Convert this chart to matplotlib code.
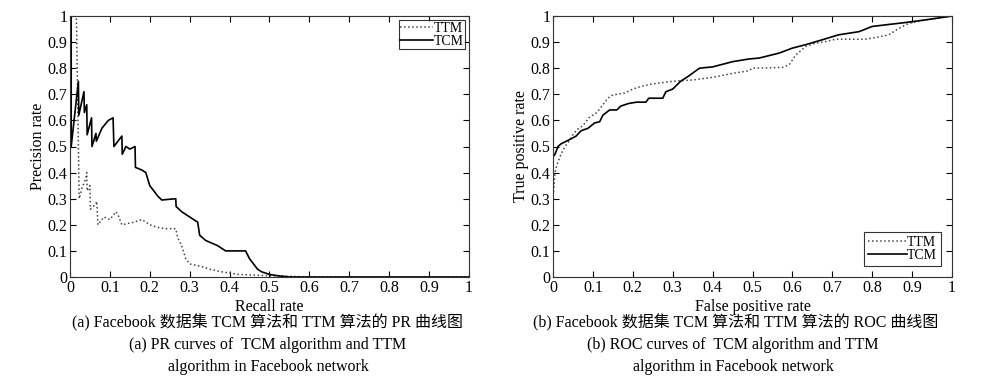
import numpy as np
import matplotlib.pyplot as plt

plt.rcParams['font.family'] = ['Liberation Serif', 'Noto Sans CJK SC']
plt.rcParams['font.size'] = 11

# PR 曲线数据 (recall, precision)
pr_tcm_x = [0.0, 0.003, 0.003, 0.021, 0.022, 0.035, 0.036, 0.042, 0.043, 0.054, 0.055, 0.065, 0.066,
            0.08, 0.096, 0.108, 0.11, 0.13, 0.131, 0.14, 0.15, 0.163, 0.164, 0.18, 0.19, 0.2,
            0.22, 0.23, 0.265, 0.266, 0.28, 0.3, 0.32, 0.325, 0.34, 0.37, 0.39, 0.44, 0.45,
            0.46, 0.47, 0.48, 0.5, 0.52, 0.55, 0.7, 1.0]
pr_tcm_y = [0.5, 1.0, 0.5, 0.75, 0.62, 0.71, 0.63, 0.66, 0.545, 0.61, 0.5, 0.55, 0.52,
            0.57, 0.6, 0.61, 0.5, 0.54, 0.47, 0.5, 0.49, 0.5, 0.42, 0.41, 0.4, 0.35,
            0.31, 0.295, 0.3, 0.27, 0.25, 0.23, 0.21, 0.16, 0.14, 0.12, 0.1, 0.1, 0.07,
            0.05, 0.03, 0.02, 0.01, 0.005, 0.0, 0.0, 0.0]
pr_ttm_x = [0.012, 0.016, 0.023, 0.03, 0.04, 0.042, 0.043, 0.05, 0.051, 0.065, 0.067, 0.07,
            0.085, 0.1, 0.115, 0.12, 0.13, 0.16, 0.18, 0.2, 0.22, 0.24, 0.265, 0.27, 0.28,
            0.29, 0.3, 0.33, 0.35, 0.38, 0.42, 0.5, 0.6, 1.0]
pr_ttm_y = [1.0, 1.0, 0.3, 0.34, 0.38, 0.4, 0.33, 0.35, 0.26, 0.28, 0.29, 0.2,
            0.23, 0.22, 0.25, 0.24, 0.2, 0.21, 0.22, 0.2, 0.19, 0.185, 0.185, 0.15, 0.12,
            0.07, 0.05, 0.04, 0.03, 0.02, 0.01, 0.005, 0.0, 0.0]

# ROC 曲线数据 (FPR, TPR)
roc_tcm_x = [0.0, 0.0, 0.005, 0.0125, 0.02, 0.033, 0.046, 0.058, 0.07, 0.088, 0.104, 0.117,
             0.125, 0.142, 0.16, 0.17, 0.19, 0.21, 0.233, 0.24, 0.275, 0.283, 0.3, 0.32,
             0.34, 0.367, 0.4, 0.45, 0.49, 0.517, 0.567, 0.6, 0.633, 0.675, 0.716, 0.767,
             0.8, 0.883, 0.933, 1.0]
roc_tcm_y = [0.3, 0.46, 0.47, 0.5, 0.51, 0.52, 0.53, 0.54, 0.56, 0.57, 0.59, 0.595,
             0.62, 0.64, 0.64, 0.655, 0.665, 0.67, 0.67, 0.685, 0.685, 0.71, 0.72, 0.75,
             0.77, 0.8, 0.805, 0.825, 0.835, 0.839, 0.858, 0.877, 0.89, 0.909, 0.928, 0.94,
             0.96, 0.975, 0.985, 1.0]
roc_ttm_x = [0.0, 0.0, 0.005, 0.01, 0.02, 0.03, 0.04, 0.05, 0.06, 0.075, 0.09, 0.1, 0.11,
             0.12, 0.135, 0.145, 0.16, 0.18, 0.2, 0.22, 0.25, 0.3, 0.35, 0.4, 0.45, 0.49,
             0.5, 0.575, 0.592, 0.608, 0.633, 0.658, 0.683, 0.708, 0.783, 0.817, 0.842,
             0.867, 0.892, 0.933, 1.0]
roc_ttm_y = [0.0, 0.3, 0.4, 0.43, 0.47, 0.5, 0.52, 0.545, 0.565, 0.58, 0.61, 0.62, 0.63,
             0.65, 0.68, 0.695, 0.7, 0.705, 0.72, 0.73, 0.74, 0.75, 0.755, 0.765, 0.78, 0.79,
             0.8, 0.803, 0.813, 0.85, 0.883, 0.896, 0.902, 0.911, 0.911, 0.92, 0.928,
             0.953, 0.972, 0.985, 1.0]

ticks = np.arange(0, 1.01, 0.1)
tick_labels = ['0', '0.1', '0.2', '0.3', '0.4', '0.5', '0.6', '0.7', '0.8', '0.9', '1']

fig = plt.figure(figsize=(9.95, 3.81), dpi=100)
ax1 = fig.add_axes([70 / 995, 104 / 381, 399 / 995, 261 / 381])
ax2 = fig.add_axes([553 / 995, 104 / 381, 399 / 995, 261 / 381])

ax1.plot(pr_ttm_x, pr_ttm_y, ':', color='#444444', lw=1.1, label='TTM')
ax1.plot(pr_tcm_x, pr_tcm_y, '-', color='black', lw=1.2, label='TCM')
ax2.plot(roc_ttm_x, roc_ttm_y, ':', color='#444444', lw=1.1, label='TTM')
ax2.plot(roc_tcm_x, roc_tcm_y, '-', color='black', lw=1.2, label='TCM')

for ax in (ax1, ax2):
    ax.set_xlim(0, 1)
    ax.set_ylim(0, 1)
    ax.set_xticks(ticks)
    ax.set_xticklabels(tick_labels)
    ax.set_yticks(ticks)
    ax.set_yticklabels(tick_labels)
    ax.tick_params(direction='in', top=True, right=True, length=4, width=0.8, pad=2, labelsize=11.5)
    for s in ax.spines.values():
        s.set_linewidth(0.8)
        s.set_color('#333333')

ax1.set_xlabel('Recall rate', fontsize=11.5, labelpad=2)
ax1.set_ylabel('Precision rate', fontsize=11.5, labelpad=1)
ax2.set_xlabel('False positive rate', fontsize=11.5, labelpad=2)
ax2.set_ylabel('True positive rate', fontsize=11.5, labelpad=1)

leg1 = ax1.legend(loc='upper right', fontsize=10, frameon=True, fancybox=False,
                  borderpad=0.1, labelspacing=0.0, handlelength=2.4, handletextpad=0.0,
                  borderaxespad=0.3, edgecolor='black')
leg1.get_frame().set_linewidth(0.8)
leg2 = ax2.legend(loc='lower right', fontsize=10, frameon=True, fancybox=False,
                  borderpad=0.3, labelspacing=0.0, handlelength=2.8, handletextpad=0.0,
                  borderaxespad=0.8, edgecolor='black')
leg2.get_frame().set_linewidth(0.8)

cap = 11.5
fig.text(268 / 995, 1 - 323 / 381, '(a) Facebook 数据集 TCM 算法和 TTM 算法的 PR 曲线图',
         ha='center', va='center', fontsize=cap)
fig.text(268 / 995, 1 - 345 / 381, '(a) PR curves of  TCM algorithm and TTM',
         ha='center', va='center', fontsize=cap)
fig.text(268 / 995, 1 - 367 / 381, 'algorithm in Facebook network',
         ha='center', va='center', fontsize=cap)
fig.text(736 / 995, 1 - 323 / 381, '(b) Facebook 数据集 TCM 算法和 TTM 算法的 ROC 曲线图',
         ha='center', va='center', fontsize=cap)
fig.text(733 / 995, 1 - 345 / 381, '(b) ROC curves of  TCM algorithm and TTM',
         ha='center', va='center', fontsize=cap)
fig.text(733 / 995, 1 - 367 / 381, 'algorithm in Facebook network',
         ha='center', va='center', fontsize=cap)

fig.savefig('out.png', dpi=100)
